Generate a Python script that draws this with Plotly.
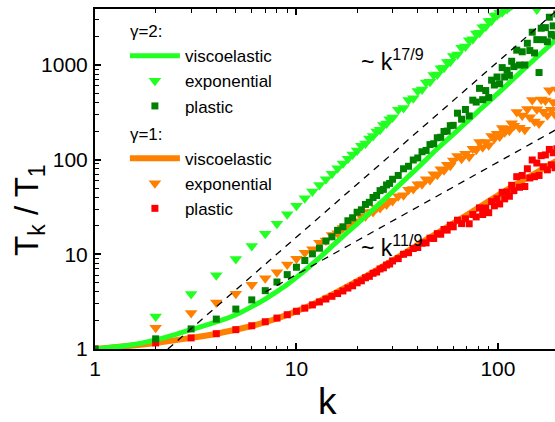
import plotly.graph_objects as go

# ---------------- data ----------------
k_pts = list(range(1, 31)) + list(range(32, 61, 2)) + list(range(63, 121, 3)) + list(range(124, 201, 4))

# gamma = 2, exponential (light green triangles)
exp2 = [None, 2.2, 3.8, 6.0, 8.9, 12.2, 16.5, 21, 26.5, 32.5,
        39, 46, 54, 62, 71, 81, 91, 102, 113, 125,
        140, 148, 167, 177, 198, 207, 232, 241, 267, 278,
        335, 350, 425, 445, 530, 550, 650, 665, 780, 790, 920, 930, 1075, 1080, 1240,
        1290, 1520, 1560, 1820, 1860, 2150, 2190, 2500, 2540, 2900,
        2930, 3300, 3350, 3550, 3600, 3850, 3900, 4100, 4250, 4450,
        4600, None, None, None, None, None, None, None, 3850, None,
        None, None, None, None, None, None, None, None, None, None]

# gamma = 2, plastic (dark green squares)
pl2 = [1.0, 1.28, 1.63, 2.07, 2.64, 3.3, 4.13, 5.1, 6.1, 7.3,
       8.6, 10.1, 11.6, 13.8, 15.3, 17.9, 19.5, 22.6, 24.3, 27.8,
       29.5, 33.6, 35.4, 39.8, 41.8, 47, 48.5, 54, 56, 62,
       68, 80, 85, 99, 104, 121, 125, 144, 147, 170, 172, 198, 200, 228, 230,
       309, 267, 338, 289, 424, 405, 565, 429, 536, 452,
       690, 613, 745, 632, 936, 745, 876, 777, 1092, 958,
       1430, 995, 1375, 998, 1692, 1416, 2212, 1336, 1848, 830,
       2438, 1845, 2473, 1755, 3186, 2100, 2580, 2025, 3440, 2587]

# gamma = 1, exponential (orange triangles)
exp1 = [None, 1.68, 2.4, 3.1, 3.84, 4.77, 5.6, 6.45, 7.8, 9.0,
        10.4, 11.3, 13.2, 14.0, 16.0, 16.7, 18.9, 19.4, 21.9, 22.3,
        24.9, 25.2, 27.9, 28.0, 30.9, 30.8, 33.8, 33.6, 36.8, 36.5,
        41, 42, 48, 49, 55, 55, 62, 61, 70, 69, 79, 77, 88, 86, 98,
        109, 102, 115, 107, 130, 127, 153, 135, 153, 142,
        177, 167, 187, 175, 216, 194, 212, 202, 242, 227,
        318, 217, 292, 206, 342, 280, 427, 252, 341, 241,
        431, 320, 420, 293, 540, 336, 405, 300, 550, 383]

# gamma = 1, plastic (red squares)
pl1 = [1.0, 1.16, 1.31, 1.45, 1.6, 1.76, 1.94, 2.12, 2.3, 2.5,
       2.7, 2.92, 3.14, 3.37, 3.6, 3.85, 4.1, 4.4, 4.65, 5.0,
       5.25, 5.65, 5.85, 6.3, 6.5, 7.0, 7.2, 7.7, 7.9, 8.5,
       9.0, 10.0, 10.4, 11.5, 11.8, 13.1, 13.2, 14.8, 14.7, 16.5, 16.3, 18.3, 18.0, 20.3, 19.5,
       22.9, 21.1, 23.7, 21.0, 26.3, 24.8, 30.9, 26.3, 30.8, 27.5,
       36.0, 32.5, 38.5, 34.0, 45.1, 38.5, 45.5, 41.0, 53.5, 47.0,
       66, 51, 68, 52, 80, 64, 99, 66, 92, 68,
       110, 84, 112, 78, 128, 88, 118, 82, 130, 100]

# viscoelastic curves
visco2_k = [1, 1.5, 2, 2.5, 3, 4, 5, 6, 7, 8, 9, 10, 12, 14, 17, 20, 25, 30, 35, 40, 50, 60, 70, 80, 100, 120, 150, 200]
visco2_y = [1, 1.1, 1.25, 1.42, 1.6, 1.93, 2.3, 2.8, 3.37, 4.05, 4.8, 5.7, 7.9, 10.6, 15.5, 21, 32, 46, 63, 82, 130, 185, 250, 325, 500, 720, 1120, 1950]
visco1_k = [1, 1.5, 2, 3, 4, 5, 6, 7, 8, 9, 10, 12, 15, 20, 25, 30, 40, 50, 70, 100, 120, 150, 200]
visco1_y = [1, 1.08, 1.16, 1.31, 1.45, 1.6, 1.75, 1.92, 2.1, 2.3, 2.5, 2.95, 3.75, 5.2, 6.8, 8.6, 12.6, 16.8, 26, 42, 53, 70, 100]

# power-law guide lines (end points)
guideA_k = [2.3, 200]
guideA_y = [1.0, 3900]
guideB_k = [7, 200]
guideB_y = [4.0, 214]

x_ticks = [1, 10, 100]
y_ticks = [1, 10, 100, 1000]

# ---------------- styling ----------------
LIME = '#22FF22'
DKGREEN = '#008000'
ORANGE = '#FF8000'
RED = '#FF0000'
FONT = 'Liberation Sans, Arial, sans-serif'

fig = go.Figure()

fig.add_trace(go.Scatter(x=k_pts, y=exp2, mode='markers', name='exponential',
                         legendgroup='g2', legendgrouptitle_text='γ=2:', legendrank=2,
                         marker=dict(symbol='triangle-down', size=11, color=LIME, line=dict(width=0))))
fig.add_trace(go.Scatter(x=k_pts, y=exp1, mode='markers', name='exponential',
                         legendgroup='g1', legendgrouptitle_text='γ=1:', legendrank=5,
                         marker=dict(symbol='triangle-down', size=11, color=ORANGE, line=dict(width=0))))
fig.add_trace(go.Scatter(x=visco1_k, y=visco1_y, mode='lines', name='viscoelastic',
                         legendgroup='g1', legendgrouptitle_text='γ=1:', legendrank=4,
                         line=dict(color=ORANGE, width=6, shape='spline')))
fig.add_trace(go.Scatter(x=visco2_k, y=visco2_y, mode='lines', name='viscoelastic',
                         legendgroup='g2', legendgrouptitle_text='γ=2:', legendrank=1,
                         line=dict(color=LIME, width=5, shape='spline')))
fig.add_trace(go.Scatter(x=k_pts, y=pl1, mode='markers', name='plastic',
                         legendgroup='g1', legendgrouptitle_text='γ=1:', legendrank=6,
                         marker=dict(symbol='square', size=7, color=RED, line=dict(width=0))))
fig.add_trace(go.Scatter(x=k_pts, y=pl2, mode='markers', name='plastic',
                         legendgroup='g2', legendgrouptitle_text='γ=2:', legendrank=3,
                         marker=dict(symbol='square', size=7, color=DKGREEN, line=dict(width=0))))
for gk, gy in ((guideA_k, guideA_y), (guideB_k, guideB_y)):
    fig.add_trace(go.Scatter(x=gk, y=gy, mode='lines', showlegend=False, hoverinfo='skip',
                             line=dict(color='black', width=1.3, dash='7px,6px')))

minor_vals = [m * 10 ** e for e in range(0, 4) for m in range(2, 10)]

axis_common = dict(type='log', showgrid=False, zeroline=False, showline=True,
                   linecolor='black', linewidth=2, ticks='inside', ticklen=6,
                   tickwidth=1.6, tickcolor='black',
                   tickfont=dict(family=FONT, size=21, color='black'),
                   minor=dict(tickmode='array', tickvals=minor_vals, ticks='inside',
                              ticklen=3.5, tickwidth=1.3, tickcolor='black', showgrid=False))

fig.update_xaxes(**axis_common, range=[0, 2.2833], mirror='ticks',
                 tickmode='array', tickvals=x_ticks, ticktext=[str(v) for v in x_ticks],
                 ticklabelstandoff=0)
fig.update_yaxes(**axis_common, range=[0, 3.59], mirror=False,
                 tickmode='array', tickvals=y_ticks, ticktext=[str(v) for v in y_ticks],
                 ticklabelstandoff=1)

annots = [
    dict(text='~ k<sup>17/9</sup>', x=(392 - 95) / 460, y=(349 - 60) / 340),
    dict(text='~ k<sup>11/9</sup>', x=(392 - 95) / 460, y=(349 - 246) / 340),
]
for a in annots:
    fig.add_annotation(xref='paper', yref='paper', showarrow=False, xanchor='center',
                       yanchor='middle', font=dict(family=FONT, size=23, color='black'), **a)

fig.add_annotation(text='k', xref='paper', yref='paper', x=(327 - 95) / 460,
                   y=(349 - 402) / 340, showarrow=False, xanchor='center', yanchor='middle',
                   font=dict(family=FONT, size=37, color='black'))
fig.add_annotation(text='T<sub>k</sub> / T<sub>1</sub>', xref='paper', yref='paper',
                   x=(29 - 95) / 460, y=(349 - 210) / 340, textangle=-90, showarrow=False,
                   xanchor='center', yanchor='middle',
                   font=dict(family=FONT, size=33, color='black'))

fig.update_layout(
    width=555, height=422,
    margin=dict(l=95, r=0, t=9, b=73),
    paper_bgcolor='white', plot_bgcolor='white',
    showlegend=True,
    legend=dict(x=0.065, y=0.988, xanchor='left', yanchor='top',
                bgcolor='rgba(0,0,0,0)', traceorder='grouped', tracegroupgap=2,
                itemwidth=50,
                font=dict(family=FONT, size=17, color='black'),
                grouptitlefont=dict(family=FONT, size=17, color='black')),
)

fig.write_html('out.html')
